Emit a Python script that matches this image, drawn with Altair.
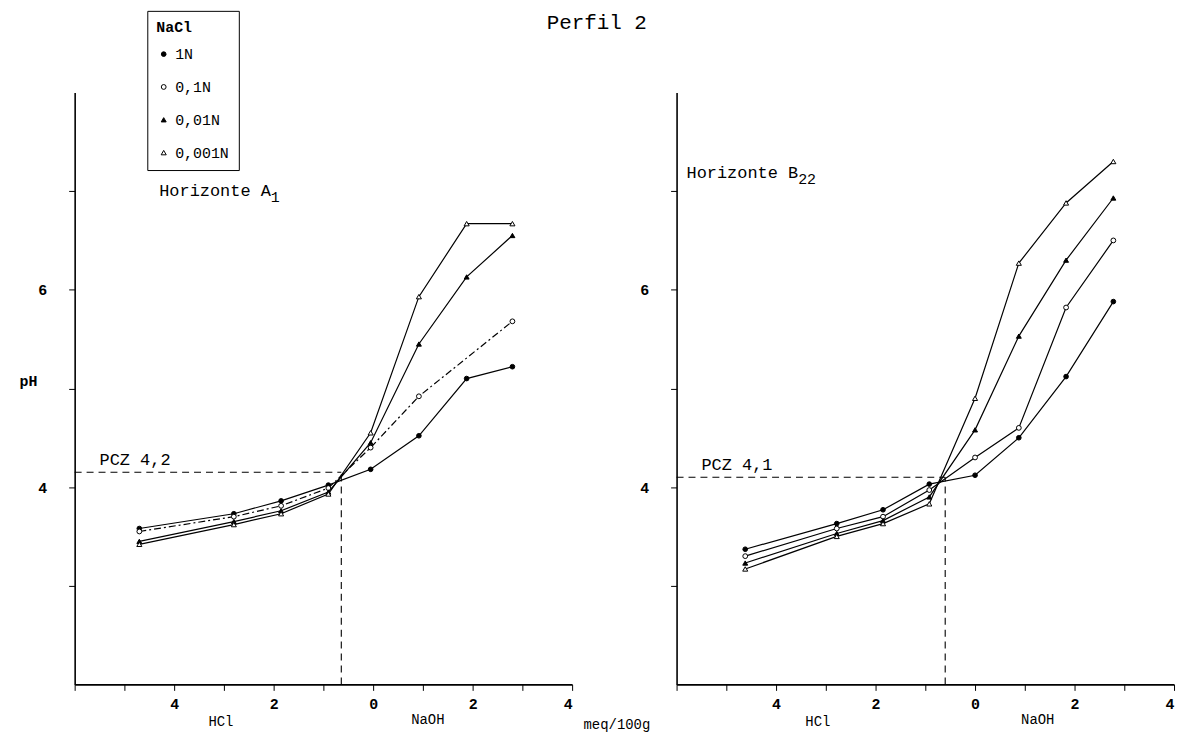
import altair as alt
import pandas as pd

MONO = "Liberation Mono"

series = ["1N", "0,1N", "0,01N", "0,001N"]

# Horizonte A1 (left panel): meq/100g (HCl negative, NaOH positive) and pH
x_a1 = [-4.7, -2.8, -1.85, -0.9, -0.05, 0.92, 1.88, 2.8]
ph_a1_1N = [3.58, 3.73, 3.86, 4.02, 4.18, 4.52, 5.10, 5.22]
ph_a1_01N = [3.55, 3.70, 3.81, 3.99, 4.40, 4.92, None, 5.68]
ph_a1_001N = [3.45, 3.65, 3.76, 3.95, 4.45, 5.45, 6.13, 6.55]
ph_a1_0001N = [3.42, 3.62, 3.73, 3.93, 4.55, 5.93, 6.67, 6.67]

# Horizonte B22 (right panel)
x_b22 = [-4.62, -2.78, -1.85, -0.92, 0.0, 0.88, 1.83, 2.78]
ph_b22_1N = [3.37, 3.63, 3.77, 4.03, 4.12, 4.50, 5.12, 5.88]
ph_b22_01N = [3.30, 3.58, 3.70, 3.97, 4.30, 4.60, 5.82, 6.50]
ph_b22_001N = [3.23, 3.53, 3.66, 3.90, 4.58, 5.53, 6.30, 6.93]
ph_b22_0001N = [3.17, 3.50, 3.63, 3.83, 4.90, 6.27, 6.88, 7.30]

# PCZ (point of zero charge) reference lines
pcz_labels = ["PCZ 4,2", "PCZ 4,1"]
pcz_ph = [4.15, 4.10]
pcz_meq = [-0.64, -0.6]

# Panel annotations
horizon_main = ["Horizonte A", "Horizonte B"]
horizon_sub = ["1", "22"]
horizon_x = [-4.3, -5.8]
horizon_y = [6.95, 7.13]

axis_words_left = ["HCl", "NaOH", "meq/100g"]
axis_words_left_x = [-3.06, 1.1, 4.9]
axis_words_left_y = [1.58, 1.6, 1.55]
axis_words_right = ["HCl", "NaOH"]
axis_words_right_x = [-3.16, 1.26]
axis_words_right_y = [1.58, 1.6]

TXT = 17


def long_df(xs, cols):
    rows = []
    for name, vals in zip(series, cols):
        for xv, yv in zip(xs, vals):
            if yv is not None:
                rows.append({"x": xv, "ph": yv, "serie": name})
    return pd.DataFrame(rows)


df_a1 = long_df(x_a1, [ph_a1_1N, ph_a1_01N, ph_a1_001N, ph_a1_0001N])
df_b22 = long_df(x_b22, [ph_b22_1N, ph_b22_01N, ph_b22_001N, ph_b22_0001N])


def panel(df, idx, show_legend, words, words_x, words_y, ytitle, dashed_series):
    xenc = alt.X(
        "x:Q",
        scale=alt.Scale(domain=[-6, 4], nice=False, zero=False),
        axis=alt.Axis(
            values=list(range(-6, 5)),
            labelExpr="(datum.value % 2 == 0 && datum.value > -6) ? '' + abs(datum.value) : ''",
            title=None,
        ),
    )
    ylab = "(datum.value == 4 || datum.value == 6) ? '' + datum.value : ''"
    if ytitle:
        yaxis = alt.Axis(
            values=[3, 4, 5, 6, 7],
            labelExpr=ylab,
            title=ytitle,
            titleAngle=0,
            titleX=-47,
            titleY=290,
            titleAlign="center",
            titleBaseline="middle",
        )
    else:
        yaxis = alt.Axis(values=[3, 4, 5, 6, 7], labelExpr=ylab, title=None)
    yenc = alt.Y("ph:Q", scale=alt.Scale(domain=[2, 8], nice=False, zero=False), axis=yaxis)

    if show_legend:
        leg = alt.Legend(
            title="NaCl",
            orient="none",
            direction="vertical",
            legendX=73,
            legendY=-82,
            strokeColor="black",
            padding=9,
            titleFont=MONO,
            titleFontSize=15,
            titleFontWeight="bold",
            titlePadding=12,
            labelFont=MONO,
            labelFontSize=15,
            labelColor="black",
            titleColor="black",
            rowPadding=17,
            symbolStrokeColor="black",
            symbolStrokeWidth=1,
        )
    else:
        leg = None

    solid_series = [s for s in series if s not in dashed_series]
    lines = alt.Chart(df).transform_filter(
        alt.FieldOneOfPredicate(field="serie", oneOf=solid_series)
    ).mark_line(color="black", strokeWidth=1.2).encode(x=xenc, y=yenc, detail="serie:N")
    layers = [lines]
    if dashed_series:
        dlines = alt.Chart(df).transform_filter(
            alt.FieldOneOfPredicate(field="serie", oneOf=dashed_series)
        ).mark_line(color="black", strokeWidth=1.2, strokeDash=[7, 3, 2, 3]).encode(
            x="x:Q", y="ph:Q", detail="serie:N"
        )
        layers.append(dlines)

    points = alt.Chart(df).mark_point(filled=True, strokeWidth=1, opacity=1).encode(
        x="x:Q",
        y="ph:Q",
        shape=alt.Shape(
            "serie:N",
            scale=alt.Scale(domain=series, range=["circle", "circle", "triangle-up", "triangle-up"]),
            legend=leg,
        ),
        fill=alt.Fill(
            "serie:N",
            scale=alt.Scale(domain=series, range=["black", "white", "black", "white"]),
            legend=leg,
        ),
        stroke=alt.Stroke(
            "serie:N",
            scale=alt.Scale(domain=series, range=["black", "black", "black", "black"]),
            legend=leg,
        ),
        size=alt.Size(
            "serie:N",
            scale=alt.Scale(domain=series, range=[22, 26, 50, 50]),
            legend=leg,
        ),
    )

    pcz = pd.DataFrame(
        {"x0": [-6.0], "x": [pcz_meq[idx]], "y0": [2.0], "ph": [pcz_ph[idx]], "t": [pcz_labels[idx]]}
    )
    hrule = alt.Chart(pcz).mark_rule(color="black", strokeDash=[7, 5], strokeWidth=1.1).encode(
        x="x0:Q", x2="x:Q", y="ph:Q"
    )
    vrule = alt.Chart(pcz).mark_rule(color="black", strokeDash=[7, 5], strokeWidth=1.1).encode(
        x="x:Q", y="y0:Q", y2="ph:Q"
    )
    pcz_text = alt.Chart(pcz).mark_text(
        font=MONO, fontSize=TXT, align="left", baseline="bottom", dy=-3, dx=25
    ).encode(x="x0:Q", y="ph:Q", text="t:N")

    main = horizon_main[idx]
    hz = pd.DataFrame(
        {"x": [horizon_x[idx]], "ph": [horizon_y[idx]], "t": [main], "s": [horizon_sub[idx]]}
    )
    hz_text = alt.Chart(hz).mark_text(font=MONO, fontSize=TXT, align="left", baseline="alphabetic").encode(
        x="x:Q", y="ph:Q", text="t:N"
    )
    hz_sub = alt.Chart(hz).mark_text(
        font=MONO, fontSize=TXT - 2, align="left", baseline="alphabetic",
        dx=len(main) * 0.6 * TXT, dy=6,
    ).encode(x="x:Q", y="ph:Q", text="s:N")

    wd = pd.DataFrame({"x": words_x, "ph": words_y, "t": words})
    w_text = alt.Chart(wd).mark_text(font=MONO, fontSize=14, align="center", baseline="alphabetic").encode(
        x="x:Q", y="ph:Q", text="t:N"
    )

    layers += [hrule, vrule, points, pcz_text, hz_text, hz_sub, w_text]
    return alt.layer(*layers).properties(width=500, height=595)


left = panel(df_a1, 0, True, axis_words_left, axis_words_left_x, axis_words_left_y, "pH", ["0,1N"])
right = panel(df_b22, 1, False, axis_words_right, axis_words_right_x, axis_words_right_y, None, [])

chart = (
    alt.hconcat(left, right, spacing=105, bounds="flush")
    .resolve_scale(shape="independent", fill="independent", size="independent", stroke="independent")
    .properties(
        title=alt.TitleParams(
            "Perfil 2", font=MONO, fontSize=21, fontWeight="normal", anchor="middle", color="black",
            offset=-23,
        ),
        background="white",
        padding={"left": 10, "top": 0, "right": 5, "bottom": 2},
    )
    .configure_view(stroke=None)
    .configure_axis(
        grid=False,
        domainColor="black",
        domainWidth=1.6,
        tickColor="black",
        tickSize=6,
        labelColor="black",
        labelFont=MONO,
        labelFontSize=15,
        labelFontWeight="bold",
        titleFont=MONO,
        titleFontSize=15,
        titleFontWeight="bold",
        titleColor="black",
    )
    .configure_axisY(labelPadding=22)
    .configure_axisX(labelPadding=6)
)

chart.save("out.html", embed_options={"renderer": "svg", "actions": False})
